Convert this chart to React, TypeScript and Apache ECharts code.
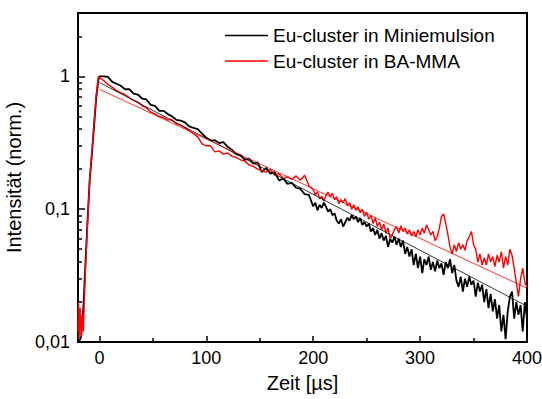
import React, { useEffect, useRef } from "react";
import * as echarts from "echarts";

const FONT = "Arial, 'Liberation Sans', sans-serif";

// x-axis ticks (µs)
const xMajorTicks = [0, 100, 200, 300, 400];
const xMinorTicks = [50, 150, 250, 350];
// y-axis ticks (log)
const yTickValues = [0.01, 0.1, 1];
const yTickLabels = ["0,01", "0,1", "1"];
const yMinorTicks = [0.02, 0.03, 0.04, 0.05, 0.06, 0.07, 0.08, 0.09, 0.2, 0.3, 0.4, 0.5, 0.6, 0.7, 0.8, 0.9, 2];

const seriesNames = ["Eu-cluster in Miniemulsion", "Eu-cluster in BA-MMA"];

// rising edge
const blackRiseTimes = [-19, -17, -15, -13, -11, -9, -7, -5, -3, -1];
const blackRise = [0.01, 0.011, 0.018, 0.04, 0.085, 0.17, 0.26, 0.42, 0.68, 0.93];
const redRiseTimes = [-20, -19.5, -19, -18, -17, -16, -15, -14, -13, -11, -9, -7, -5, -3, -1];
const redRise = [0.012, 0.02, 0.0105, 0.018, 0.011, 0.016, 0.012, 0.022, 0.035, 0.08, 0.17, 0.27, 0.45, 0.72, 1.0];

// decay, every 4 µs from 0 to 196
const earlyTimes = Array.from({ length: 50 }, (_, i) => i * 4);
const blackEarly = [
  1.0, 1.0, 0.99, 0.91, 0.88, 0.85, 0.8, 0.8, 0.74, 0.73,
  0.68, 0.67, 0.61, 0.6, 0.55, 0.55, 0.52, 0.5, 0.47, 0.465,
  0.45, 0.42, 0.41, 0.4, 0.37, 0.345, 0.33, 0.33, 0.315, 0.32,
  0.295, 0.28, 0.26, 0.255, 0.235, 0.24, 0.22, 0.225, 0.19, 0.205,
  0.185, 0.19, 0.165, 0.17, 0.155, 0.158, 0.145, 0.142, 0.13, 0.128,
];
const redEarly = [
  0.98, 0.93, 0.87, 0.83, 0.78, 0.75, 0.73, 0.69, 0.66, 0.64,
  0.6, 0.58, 0.54, 0.52, 0.5, 0.49, 0.47, 0.47, 0.44, 0.43,
  0.41, 0.39, 0.37, 0.35, 0.31, 0.3, 0.3, 0.27, 0.275, 0.26,
  0.265, 0.25, 0.245, 0.235, 0.23, 0.215, 0.21, 0.2, 0.195, 0.19,
  0.2, 0.18, 0.185, 0.17, 0.175, 0.168, 0.178, 0.165, 0.18, 0.15,
];

// decay, every 2 µs from 200 to 400
const lateTimes = Array.from({ length: 101 }, (_, i) => 200 + i * 2);
const blackLate = [
  0.105, 0.112, 0.098, 0.108, 0.102, 0.112, 0.104, 0.096, 0.1, 0.09,
  0.093, 0.082, 0.078, 0.084, 0.074, 0.08, 0.086, 0.082, 0.09, 0.084,
  0.088, 0.08, 0.086, 0.076, 0.08, 0.074, 0.078, 0.068, 0.072, 0.064,
  0.07, 0.06, 0.066, 0.058, 0.063, 0.052, 0.06, 0.056, 0.062, 0.054,
  0.06, 0.052, 0.058, 0.046, 0.052, 0.044, 0.05, 0.038, 0.046, 0.036,
  0.044, 0.033, 0.042, 0.038, 0.044, 0.035, 0.04, 0.034, 0.041, 0.036,
  0.039, 0.032, 0.04, 0.036, 0.042, 0.033, 0.038, 0.029, 0.026, 0.031,
  0.024, 0.03, 0.026, 0.031, 0.027, 0.029, 0.022, 0.028, 0.024, 0.027,
  0.02, 0.025, 0.018, 0.023, 0.017, 0.021, 0.015, 0.019, 0.012, 0.016,
  0.0105, 0.017, 0.022, 0.024, 0.015, 0.02, 0.016, 0.019, 0.012, 0.02,
  0.015,
];
const redLate = [
  0.14, 0.128, 0.135, 0.12, 0.125, 0.115, 0.128, 0.134, 0.124, 0.132,
  0.118, 0.124, 0.11, 0.118, 0.112, 0.12, 0.106, 0.112, 0.1, 0.108,
  0.098, 0.104, 0.094, 0.1, 0.088, 0.095, 0.084, 0.09, 0.078, 0.086,
  0.074, 0.08, 0.07, 0.077, 0.066, 0.072, 0.06, 0.064, 0.07, 0.074,
  0.066, 0.075, 0.068, 0.072, 0.065, 0.07, 0.063, 0.068, 0.062, 0.07,
  0.064, 0.072, 0.066, 0.076, 0.07, 0.064, 0.068, 0.058, 0.062, 0.072,
  0.088, 0.092, 0.078, 0.064, 0.052, 0.046, 0.054, 0.048, 0.056, 0.05,
  0.054, 0.049, 0.058, 0.062, 0.068, 0.054, 0.05, 0.04, 0.046, 0.038,
  0.043, 0.038, 0.046, 0.04, 0.044, 0.037, 0.045, 0.04, 0.048, 0.036,
  0.044, 0.038, 0.05, 0.045, 0.036, 0.028, 0.022, 0.03, 0.036, 0.028,
  0.026,
];

// single-exponential fits (straight on log axis): start and end points
const fitTimes = [0, 400];
const blackFit = [0.9, 0.0186];
const redFit = [0.8, 0.0254];

export default function App() {
  const ref = useRef<HTMLDivElement>(null);
  useEffect(() => {
    if (!ref.current) return;
    const chart = echarts.init(ref.current, undefined, { renderer: "svg" });
    const pairs = (ts: number[], vs: number[]) => ts.map((t, i) => [t, vs[i]]);
    const blackData = [
      ...pairs(blackRiseTimes, blackRise),
      ...pairs(earlyTimes, blackEarly),
      ...pairs(lateTimes, blackLate),
    ];
    const redData = [
      ...pairs(redRiseTimes, redRise),
      ...pairs(earlyTimes, redEarly),
      ...pairs(lateTimes, redLate),
    ];
    const blackFitData = pairs(fitTimes, blackFit);
    const redFitData = pairs(fitTimes, redFit);

    const tickLabelStyle = { fontSize: 18, color: "#000", fontFamily: FONT };
    chart.setOption({
      animation: false,
      backgroundColor: "#fff",
      grid: {
        left: 78,
        right: 15,
        top: 13,
        bottom: 57,
        show: true,
        borderColor: "#000",
        borderWidth: 2,
        backgroundColor: "transparent",
        containLabel: false,
        outerBoundsMode: "none",
      },
      legend: {
        data: seriesNames.map((n) => ({ name: n })),
        orient: "vertical",
        left: 225,
        top: 26,
        padding: 0,
        icon: "rect",
        itemWidth: 43,
        itemHeight: 1.6,
        itemGap: 6.5,
        textStyle: { fontSize: 19, color: "#000", fontFamily: FONT },
        selectedMode: false,
      },
      xAxis: [
        {
          type: "value",
          min: -20,
          max: 400,
          position: "bottom",
          axisLine: { show: true, onZero: false, lineStyle: { color: "#000", width: 2 } },
          axisTick: { show: true, inside: true, length: 6, customValues: xMajorTicks, lineStyle: { color: "#000", width: 1.5 } },
          axisLabel: { show: true, customValues: xMajorTicks, margin: 7, ...tickLabelStyle },
          splitLine: { show: false },
          name: "Zeit [µs]",
          nameLocation: "middle",
          nameGap: 31,
          nameTextStyle: { fontSize: 20, color: "#000", fontFamily: FONT },
        },
        {
          type: "value",
          min: -20,
          max: 400,
          position: "bottom",
          axisLine: { show: false, onZero: false },
          axisTick: { show: true, inside: true, length: 4, customValues: xMinorTicks, lineStyle: { color: "#000", width: 1.5 } },
          axisLabel: { show: false },
          splitLine: { show: false },
        },
      ],
      yAxis: [
        {
          type: "log",
          logBase: 10,
          min: 0.01,
          max: 3,
          position: "left",
          axisLine: { show: true, onZero: false, lineStyle: { color: "#000", width: 2 } },
          axisTick: { show: true, inside: true, length: 7, lineStyle: { color: "#000", width: 1.5 } },
          axisLabel: {
            show: true,
            margin: 8,
            ...tickLabelStyle,
            formatter: (v: number) => {
              const i = yTickValues.findIndex((t) => Math.abs(t - v) / t < 1e-6);
              return i >= 0 ? yTickLabels[i] : "";
            },
          },
          splitLine: { show: false },
          minorTick: { show: false },
          name: "Intensität (norm.)",
          nameLocation: "middle",
          nameGap: 47,
          nameRotate: 90,
          nameTextStyle: { fontSize: 20, color: "#000", fontFamily: FONT },
        },
        {
          type: "log",
          logBase: 10,
          min: 0.01,
          max: 3,
          position: "left",
          axisLine: { show: false, onZero: false },
          axisTick: { show: true, inside: true, length: 4, customValues: yMinorTicks, lineStyle: { color: "#000", width: 1.5 } },
          axisLabel: { show: false },
          splitLine: { show: false },
        },
      ],
      series: [
        {
          name: seriesNames[0],
          type: "line",
          data: blackData,
          xAxisIndex: 0,
          yAxisIndex: 0,
          symbol: "none",
          showSymbol: false,
          clip: true,
          color: "#000",
          lineStyle: { color: "#000", width: 1.8 },
        },
        {
          name: seriesNames[1],
          type: "line",
          data: redData,
          xAxisIndex: 0,
          yAxisIndex: 0,
          symbol: "none",
          showSymbol: false,
          clip: true,
          color: "#ff0000",
          lineStyle: { color: "#ff0000", width: 1.4 },
        },
        {
          name: "fit1",
          type: "line",
          data: blackFitData,
          symbol: "none",
          clip: true,
          lineStyle: { color: "#000", width: 0.8 },
        },
        {
          name: "fit2",
          type: "line",
          data: redFitData,
          symbol: "none",
          clip: true,
          lineStyle: { color: "#ff0000", width: 0.8 },
        },
      ],
    });
    return () => chart.dispose();
  }, []);
  return (
    <div
      ref={ref}
      style={{ position: "absolute", left: 0, top: 0, width: 542, height: 399, background: "#fff" }}
    />
  );
}
